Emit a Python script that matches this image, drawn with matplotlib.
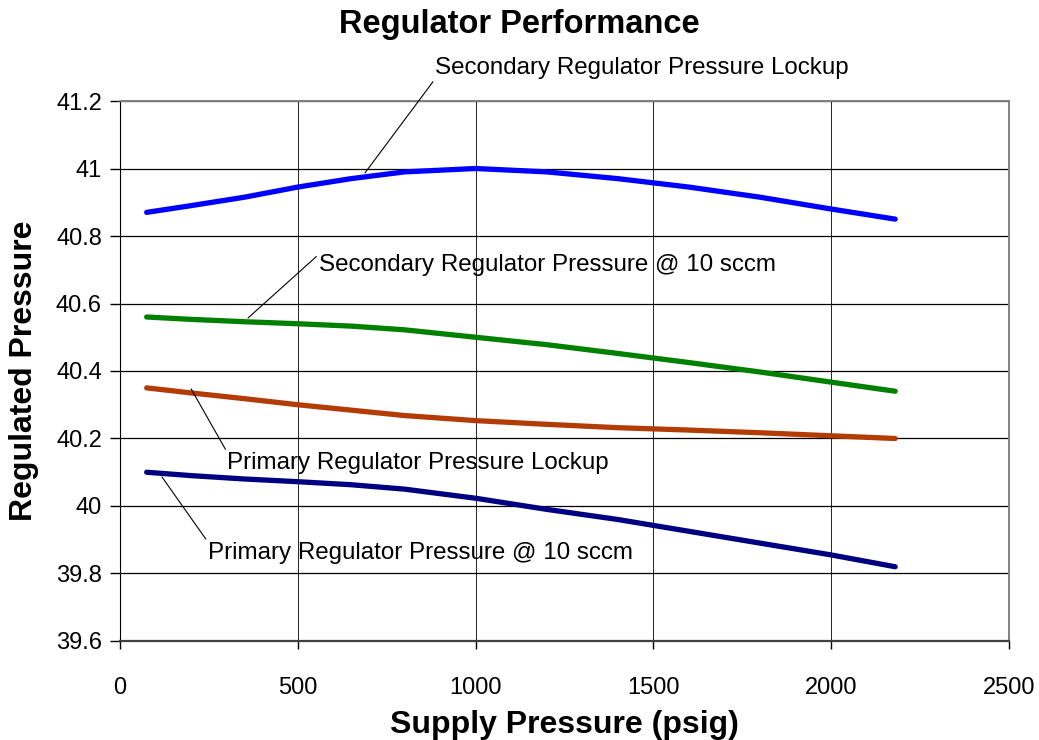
import matplotlib
matplotlib.use("Agg")
import matplotlib.pyplot as plt
from matplotlib.ticker import MultipleLocator

plt.rcParams["font.family"] = ["Liberation Sans", "DejaVu Sans"]

# Supply pressure (psig)
supply = [75, 200, 350, 500, 650, 800, 1000, 1200, 1400, 1600, 1800, 2000, 2180]

# Regulated pressure for each series
sec_lockup = [40.87, 40.89, 40.915, 40.945, 40.97, 40.99, 41.0,
              40.99, 40.97, 40.945, 40.915, 40.88, 40.85]
sec_10sccm = [40.56, 40.553, 40.546, 40.54, 40.533, 40.522, 40.50,
              40.478, 40.452, 40.425, 40.397, 40.367, 40.34]
pri_lockup = [40.35, 40.335, 40.318, 40.30, 40.284, 40.268, 40.253,
              40.242, 40.232, 40.225, 40.217, 40.208, 40.20]
pri_10sccm = [40.10, 40.09, 40.08, 40.072, 40.063, 40.05, 40.023,
              39.99, 39.96, 39.925, 39.89, 39.855, 39.82]

fig = plt.figure(figsize=(10.39, 7.40), dpi=100)
ax = fig.add_axes([0.1155, 0.1338, 0.8556, 0.7297])

# Series
ax.plot(supply, sec_lockup, color="#0000FF", lw=3.8, solid_capstyle="round", zorder=3)
ax.plot(supply, sec_10sccm, color="#008000", lw=3.8, solid_capstyle="round", zorder=3)
ax.plot(supply, pri_lockup, color="#B33C06", lw=3.8, solid_capstyle="round", zorder=3)
ax.plot(supply, pri_10sccm, color="#000080", lw=3.8, solid_capstyle="round", zorder=3)

# Axes
ax.set_xlim(0, 2500)
ax.set_ylim(39.6, 41.2)
ax.xaxis.set_major_locator(MultipleLocator(500))
ax.set_yticks([39.6, 39.8, 40.0, 40.2, 40.4, 40.6, 40.8, 41.0, 41.2])
ax.set_yticklabels(["39.6", "39.8", "40", "40.2", "40.4", "40.6", "40.8", "41", "41.2"])
ax.tick_params(axis="x", direction="out", length=6, width=1, pad=20, labelsize=17)
ax.tick_params(axis="y", direction="out", length=7, width=1, pad=6, labelsize=17)
ax.grid(axis="y", color="black", lw=0.9)
ax.grid(axis="x", color="black", lw=0.6)
ax.set_axisbelow(True)

ax.spines["left"].set_color("black")
ax.spines["bottom"].set_color("#404040")
ax.spines["bottom"].set_linewidth(1.6)
ax.spines["top"].set_color("#808080")
ax.spines["right"].set_color("#808080")
ax.spines["top"].set_linewidth(1.4)
ax.spines["right"].set_linewidth(1.4)

# Titles
fig.text(0.5, 0.967, "Regulator Performance", ha="center", va="center",
         fontsize=23.5, fontweight="bold")
ax.set_xlabel("Supply Pressure (psig)", fontsize=23, fontweight="bold", labelpad=8)
ax.set_ylabel("Regulated Pressure", fontsize=23, fontweight="bold", labelpad=12)

# Leader-line labels
line_props = dict(arrowstyle="-", color="black", lw=0.8, shrinkA=0, shrinkB=0)
ax.annotate("Secondary Regulator Pressure Lockup", xy=(689, 40.987),
            xytext=(886, 41.298), ha="left", va="center", fontsize=17.4,
            annotation_clip=False,
            arrowprops=dict(line_props, relpos=(0, 0)))
ax.annotate("Secondary Regulator Pressure @ 10 sccm", xy=(360, 40.557),
            xytext=(560, 40.714), ha="left", va="center", fontsize=17.4,
            arrowprops=dict(line_props, relpos=(0, 1)))
ax.annotate("Primary Regulator Pressure Lockup", xy=(200, 40.347),
            xytext=(301, 40.127), ha="left", va="center", fontsize=17.4,
            arrowprops=dict(line_props, relpos=(0, 1)))
ax.annotate("Primary Regulator Pressure @ 10 sccm", xy=(118, 40.086),
            xytext=(247, 39.861), ha="left", va="center", fontsize=17.4,
            arrowprops=dict(line_props, relpos=(0, 1)))

fig.savefig("out.png", dpi=100)
